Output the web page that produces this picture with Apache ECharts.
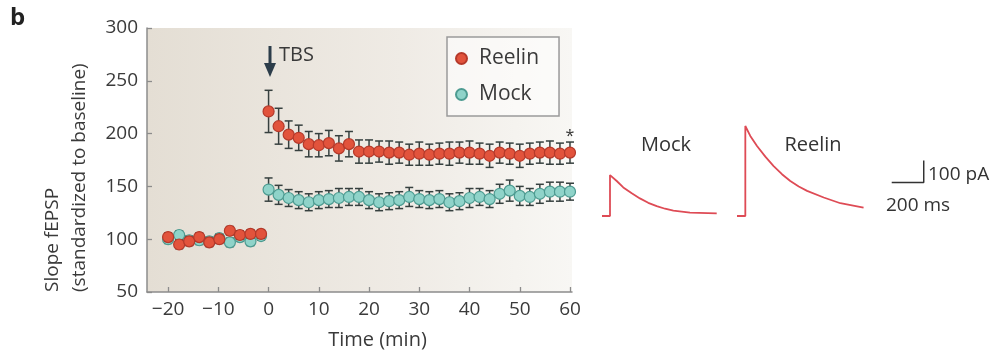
<!DOCTYPE html>
<html>
<head>
<meta charset="utf-8">
<script src="https://cdn.jsdelivr.net/npm/echarts@6/dist/echarts.min.js"></script>
<style>
  html, body { margin: 0; padding: 0; background: #fff; }
  #chart { width: 1007px; height: 355px; }
</style>
</head>
<body>
<div id="chart"></div>
<script>
// fEPSP slope, % of baseline
const baseTime = [-20, -17.8, -15.8, -13.8, -11.8, -9.8, -7.7, -5.7, -3.6, -1.5];
const reelinBase = [102, 95, 98, 102, 97, 100, 108, 104, 105, 105];
const mockBase = [100, 104, 99, 99, 98, 101, 97, 102, 98, 103];
const baseErr = [4, 4, 4, 4, 4, 4, 4, 4, 4, 4];

const postTime = [0, 2, 4, 6, 8, 10, 12, 14, 16, 18, 20, 22, 24, 26, 28, 30,
  32, 34, 36, 38, 40, 42, 44, 46, 48, 50, 52, 54, 56, 58, 60];
const reelinPost = [221, 207, 199, 196, 190, 189, 191, 186, 190, 183, 183, 183, 182, 182, 180, 181,
  180, 181, 181, 182, 182, 181, 179, 182, 181, 179, 181, 182, 182, 181, 182];
const reelinErr = [20, 17, 13, 12, 12, 11, 12, 12, 12, 11, 11, 10, 11, 10, 10, 11,
  10, 10, 11, 10, 11, 10, 11, 10, 10, 11, 10, 10, 11, 10, 10];
const mockPost = [147, 142, 139, 137, 135, 137, 138, 139, 140, 140, 137, 135, 136, 137, 140, 138,
  137, 138, 135, 136, 139, 140, 138, 143, 146, 141, 140, 143, 145, 145, 145];
const mockErr = [11, 9, 8, 8, 8, 8, 8, 9, 8, 8, 8, 8, 8, 8, 9, 8,
  8, 8, 8, 8, 9, 8, 8, 9, 10, 9, 8, 9, 9, 9, 8];

const xTicks = [-20, -10, 0, 10, 20, 30, 40, 50, 60];

// example current traces: [ms, pA]
const mockTrace = [[0, 0], [50, 0], [50, 186], [92, 159], [133, 130], [186, 103], [237, 80],
  [289, 60], [342, 45], [394, 33], [446, 24], [550, 15], [717, 12]];
const reelinTrace = [[0, 0], [52, 0], [52, 409], [83, 364], [125, 318], [177, 270], [229, 227],
  [281, 190], [333, 159], [386, 134], [438, 114], [542, 84], [646, 58], [791, 38]];
const scaleBar = [[967, 152], [1167, 152], [1167, 252]];

const RED = '#e2533c', RED_EDGE = '#b5392a';
const TEAL = '#8fd3c9', TEAL_EDGE = '#4d9b91';
const TRACE = '#de4b55';
const FONT = 'Open Sans';

function pairs(xs, ys) { return xs.map((x, i) => [x, ys[i]]); }
function bars(xs, ys, es) { return xs.map((x, i) => [x, ys[i] - es[i], ys[i] + es[i]]); }

function errorBar(params, api) {
  const x = api.value(0);
  const lo = api.coord([x, api.value(1)]);
  const hi = api.coord([x, api.value(2)]);
  const w = 4;
  const style = { stroke: '#36403f', lineWidth: 1.5 };
  return {
    type: 'group',
    children: [
      { type: 'line', shape: { x1: lo[0], y1: lo[1], x2: hi[0], y2: hi[1] }, style },
      { type: 'line', shape: { x1: lo[0] - w, y1: lo[1], x2: lo[0] + w, y2: lo[1] }, style },
      { type: 'line', shape: { x1: hi[0] - w, y1: hi[1], x2: hi[0] + w, y2: hi[1] }, style },
    ],
  };
}

const mockPts = pairs(baseTime, mockBase).concat(pairs(postTime, mockPost));
const reelinPts = pairs(baseTime, reelinBase).concat(pairs(postTime, reelinPost));
const mockBars = bars(baseTime, mockBase, baseErr).concat(bars(postTime, mockPost, mockErr));
const reelinBars = bars(baseTime, reelinBase, baseErr).concat(bars(postTime, reelinPost, reelinErr));

const chart = echarts.init(document.getElementById('chart'), null, { renderer: 'canvas' });

const hiddenAxis = { show: false };

chart.setOption({
  animation: false,
  textStyle: { fontFamily: FONT },
  grid: [
    {
      left: 147, right: 435, top: 28, bottom: 60, show: true, borderWidth: 0,
      backgroundColor: {
        type: 'linear', x: 0, y: 0, x2: 1, y2: 0,
        colorStops: [
          { offset: 0, color: '#e4ded4' },
          { offset: 0.6, color: '#efebe5' },
          { offset: 1, color: '#f8f7f4' },
        ],
      },
    },
    { left: 602, top: 117, width: 120, height: 99 },
    { left: 737, top: 117, width: 200, height: 99 },
  ],
  legend: {
    orient: 'vertical',
    left: 447, top: 37,
    data: ['Reelin', 'Mock'],
    itemWidth: 11, itemHeight: 11, itemGap: 15,
    padding: [11, 20, 11, 8],
    borderColor: '#9a9a9a', borderWidth: 1.5,
    backgroundColor: 'rgba(255,255,255,0.55)',
    textStyle: { fontSize: 21, color: '#3a3a3a', padding: [0, 0, 0, 7] },
  },
  xAxis: [
    {
      type: 'value', gridIndex: 0, min: -24.2, max: 60.4,
      splitLine: { show: false },
      axisLine: { onZero: false, lineStyle: { color: '#8c8c8c', width: 1.5 } },
      axisTick: { inside: true, length: 5, customValues: xTicks, lineStyle: { color: '#8c8c8c', width: 1.3 } },
      axisLabel: {
        customValues: xTicks, fontSize: 19, color: '#3a3a3a', margin: 8,
        formatter: (v) => String(v).replace('-', '\u2212'),
      },
      name: 'Time (min)', nameLocation: 'middle', nameGap: 38,
      nameTextStyle: { fontSize: 20, color: '#3a3a3a', padding: [0, 0, 0, 36] },
    },
    Object.assign({ type: 'value', gridIndex: 1, min: 0, max: 750 }, hiddenAxis),
    Object.assign({ type: 'value', gridIndex: 2, min: 0, max: 1250 }, hiddenAxis),
  ],
  yAxis: [
    {
      type: 'value', gridIndex: 0, min: 50, max: 300, interval: 50,
      splitLine: { show: false },
      axisLine: { show: true, onZero: false, lineStyle: { color: '#8c8c8c', width: 1.5 } },
      axisTick: { show: true, inside: true, length: 5, lineStyle: { color: '#8c8c8c', width: 1.3 } },
      axisLabel: { fontSize: 19, color: '#3a3a3a', margin: 9 },
    },
    Object.assign({ type: 'value', gridIndex: 1, min: 0, max: 450 }, hiddenAxis),
    Object.assign({ type: 'value', gridIndex: 2, min: 0, max: 450 }, hiddenAxis),
  ],
  series: [
    { name: 'mockErr', type: 'custom', renderItem: errorBar, data: mockBars, z: 2 },
    {
      name: 'Mock', type: 'scatter', data: mockPts, symbolSize: 11, z: 3,
      itemStyle: { color: TEAL, borderColor: TEAL_EDGE, borderWidth: 1.2, opacity: 1 },
    },
    { name: 'reelinErr', type: 'custom', renderItem: errorBar, data: reelinBars, z: 4 },
    {
      name: 'Reelin', type: 'scatter', data: reelinPts, symbolSize: 11, z: 5,
      itemStyle: { color: RED, borderColor: RED_EDGE, borderWidth: 1.2, opacity: 1 },
      markPoint: {
        symbolSize: 0,
        data: [{ coord: [60, 197], value: '*' }],
        label: { show: true, formatter: '*', fontSize: 16, color: '#333', position: 'inside' },
      },
    },
    {
      name: 'mockTrace', type: 'line', xAxisIndex: 1, yAxisIndex: 1, data: mockTrace,
      showSymbol: false, lineStyle: { color: TRACE, width: 1.8 },
    },
    {
      name: 'reelinTrace', type: 'line', xAxisIndex: 2, yAxisIndex: 2, data: reelinTrace,
      showSymbol: false, lineStyle: { color: TRACE, width: 1.8 },
    },
    {
      name: 'scaleBar', type: 'line', xAxisIndex: 2, yAxisIndex: 2, data: scaleBar,
      showSymbol: false, lineStyle: { color: '#333', width: 1.5 },
    },
  ],
  graphic: [
    { type: 'text', left: 10, top: 6, style: { text: 'b', font: 'bold 24px ' + FONT, fill: '#222' } },
    {
      type: 'text', x: 53, y: 292, rotation: Math.PI / 2,
      style: { text: 'Slope fEPSP', font: '19px ' + FONT, fill: '#3a3a3a', textAlign: 'left', textVerticalAlign: 'middle' },
    },
    {
      type: 'text', x: 80, y: 292, rotation: Math.PI / 2,
      style: { text: '(standardized to baseline)', font: '19px ' + FONT, fill: '#3a3a3a', textAlign: 'left', textVerticalAlign: 'middle' },
    },
    {
      type: 'line', shape: { x1: 270, y1: 46, x2: 270, y2: 66 },
      style: { stroke: '#2c3d4a', lineWidth: 3 },
    },
    {
      type: 'polygon', shape: { points: [[264, 63], [276, 63], [270, 77]] },
      style: { fill: '#2c3d4a' },
    },
    { type: 'text', x: 279, y: 55, style: { text: 'TBS', font: '20px ' + FONT, fill: '#3a3a3a', textVerticalAlign: 'middle' } },
    { type: 'text', x: 666, y: 145, style: { text: 'Mock', font: '20px ' + FONT, fill: '#333', textAlign: 'center', textVerticalAlign: 'middle' } },
    { type: 'text', x: 813, y: 145, style: { text: 'Reelin', font: '20px ' + FONT, fill: '#333', textAlign: 'center', textVerticalAlign: 'middle' } },
    { type: 'text', x: 928, y: 175, style: { text: '100 pA', font: '19px ' + FONT, fill: '#333', textVerticalAlign: 'middle' } },
    { type: 'text', x: 886, y: 206, style: { text: '200 ms', font: '19px ' + FONT, fill: '#333', textVerticalAlign: 'middle' } },
  ],
});
</script>
</body>
</html>
